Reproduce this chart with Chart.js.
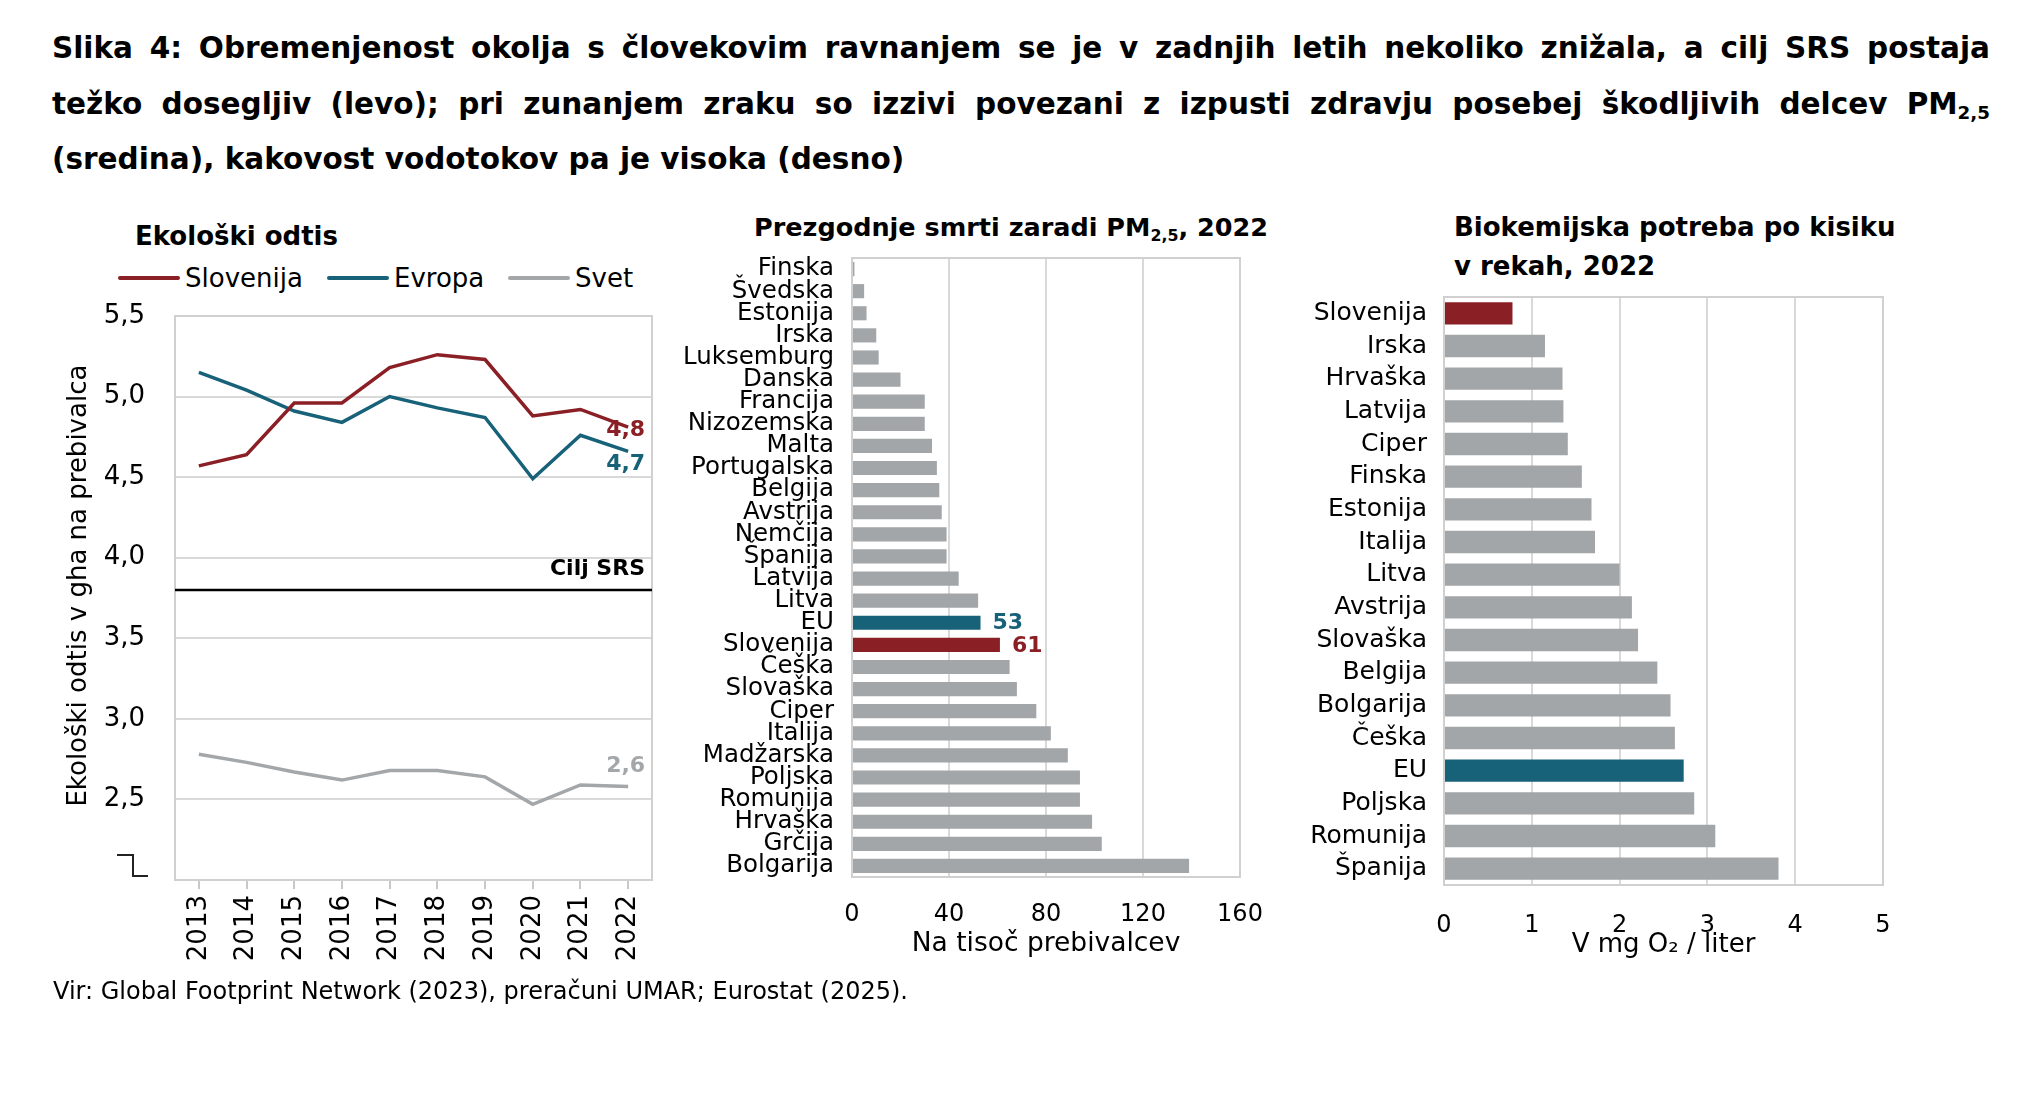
<!DOCTYPE html>
<html lang="sl">
<head>
<meta charset="utf-8">
<title>Slika 4</title>
<script src="https://cdn.jsdelivr.net/npm/chart.js@4.4.1/dist/chart.umd.min.js"></script>
<style>
  html, body { margin: 0; padding: 0; background: #fff; }
  body { width: 2032px; height: 1096px; position: relative; overflow: hidden;
         font-family: 'DejaVu Sans', sans-serif; color: #000; }
  .abs { position: absolute; white-space: nowrap; }
  .naslov { position: absolute; left: 52px; width: 1938px; font-weight: bold; font-size: 29.5px; line-height: 40px; }
  .just { text-align: justify; text-align-last: justify; }
  sub { font-size: 0.62em; vertical-align: -0.3em; line-height: 0; }
  canvas { position: absolute; }
  .leg-crta { position: absolute; height: 4px; border-radius: 2px; }
</style>
</head>
<body>

<div class="naslov just" style="top:28px">Slika 4: Obremenjenost okolja s človekovim ravnanjem se je v zadnjih letih nekoliko znižala, a cilj SRS postaja</div>
<div class="naslov just" style="top:84px">težko dosegljiv (levo); pri zunanjem zraku so izzivi povezani z izpusti zdravju posebej škodljivih delcev PM<sub>2,5</sub></div>
<div class="naslov" style="top:139px">(sredina), kakovost vodotokov pa je visoka (desno)</div>

<div class="abs" style="left:135px; top:220px; font-size:26px; line-height:32px; font-weight:bold">Ekološki odtis</div>
<div id="legenda"></div>

<div class="abs" style="left:754px; top:211px; font-size:25.5px; line-height:32px; font-weight:bold">Prezgodnje smrti zaradi PM<sub>2,5</sub>, 2022</div>
<div class="abs" style="left:1454px; top:208px; font-size:26px; line-height:39px; font-weight:bold">Biokemijska potreba po kisiku<br>v rekah, 2022</div>

<canvas id="odtis" width="630" height="700" style="left:40px; top:290px; width:630px; height:700px"></canvas>
<canvas id="pm" width="600" height="720" style="left:670px; top:245px; width:600px; height:720px"></canvas>
<canvas id="bpk" width="620" height="680" style="left:1300px; top:285px; width:620px; height:680px"></canvas>

<div class="abs" style="left:53px; top:977px; font-size:24px; line-height:28px">Vir: Global Footprint Network (2023), preračuni UMAR; Eurostat (2025).</div>

<script>
// Ekološki odtis (gha na prebivalca)
const leta = ['2013', '2014', '2015', '2016', '2017', '2018', '2019', '2020', '2021', '2022'];
const slovenija = [4.57, 4.64, 4.96, 4.96, 5.18, 5.26, 5.23, 4.88, 4.92, 4.81];
const evropa = [5.15, 5.04, 4.91, 4.84, 5.00, 4.93, 4.87, 4.49, 4.76, 4.66];
const svet = [2.78, 2.73, 2.67, 2.62, 2.68, 2.68, 2.64, 2.47, 2.59, 2.58];
const ciljSRS = 3.8;

// Prezgodnje smrti zaradi PM2,5 (na tisoč prebivalcev)
const pmDrzave = ['Finska', 'Švedska', 'Estonija', 'Irska', 'Luksemburg', 'Danska', 'Francija', 'Nizozemska',
    'Malta', 'Portugalska', 'Belgija', 'Avstrija', 'Nemčija', 'Španija', 'Latvija', 'Litva', 'EU', 'Slovenija',
    'Češka', 'Slovaška', 'Ciper', 'Italija', 'Madžarska', 'Poljska', 'Romunija', 'Hrvaška', 'Grčija', 'Bolgarija'];
const pmVrednosti = [1, 5, 6, 10, 11, 20, 30, 30, 33, 35, 36, 37, 39, 39, 44, 52, 53, 61,
    65, 68, 76, 82, 89, 94, 94, 99, 103, 139];

// Biokemijska potreba po kisiku v rekah (mg O2 / liter)
const bpkDrzave = ['Slovenija', 'Irska', 'Hrvaška', 'Latvija', 'Ciper', 'Finska', 'Estonija', 'Italija', 'Litva',
    'Avstrija', 'Slovaška', 'Belgija', 'Bolgarija', 'Češka', 'EU', 'Poljska', 'Romunija', 'Španija'];
const bpkVrednosti = [0.78, 1.15, 1.35, 1.36, 1.41, 1.57, 1.68, 1.72, 2.0, 2.14, 2.21, 2.43, 2.58, 2.63, 2.73, 2.85, 3.09, 3.81];

// Barve
const barvaSlo = '#8b1f26';
const barvaEvr = '#176179';
const barvaSvet = '#a3a7aa';
const barvaSiva = '#a2a6a9';
const barvaMreza = '#d9d9d9';
const barvaOkvir = '#d0d0d0';

Chart.defaults.font.family = "'DejaVu Sans', sans-serif";
Chart.defaults.color = '#000';
Chart.defaults.animation = false;
Chart.defaults.plugins.legend.display = false;
Chart.defaults.plugins.tooltip.enabled = false;

const fmt = v => v.toFixed(1).replace('.', ',');

// Legenda levega grafa
const serije = [
    { ime: 'Slovenija', barva: barvaSlo, x: 118 },
    { ime: 'Evropa', barva: barvaEvr, x: 327 },
    { ime: 'Svet', barva: barvaSvet, x: 508 }
];
document.getElementById('legenda').innerHTML = serije.map(s => `
    <div class="leg-crta" style="left:${s.x}px; top:276px; width:62px; background:${s.barva}"></div>
    <div class="abs" style="left:${s.x + 67}px; top:262px; font-size:26px; line-height:32px">${s.ime}</div>
`).join('');

// Okvir okoli risalne površine
const okvir = {
    id: 'okvir',
    beforeDatasetsDraw(chart) {
        const { ctx, chartArea: a } = chart;
        ctx.save();
        ctx.strokeStyle = barvaOkvir;
        ctx.lineWidth = 2;
        ctx.strokeRect(a.left, a.top, a.right - a.left, a.bottom - a.top);
        ctx.restore();
    }
};

// Črta cilja SRS
const ciljCrta = {
    id: 'cilj',
    afterDatasetsDraw(chart) {
        const { ctx, chartArea: a } = chart;
        const y = chart.scales.y.getPixelForValue(ciljSRS);
        ctx.save();
        ctx.strokeStyle = '#000';
        ctx.lineWidth = 2.5;
        ctx.beginPath();
        ctx.moveTo(a.left, y);
        ctx.lineTo(a.right, y);
        ctx.stroke();
        ctx.font = "bold 22px 'DejaVu Sans'";
        ctx.fillStyle = '#000';
        ctx.textAlign = 'right';
        ctx.textBaseline = 'middle';
        ctx.fillText('Cilj SRS', a.right - 7, y - 21);
        ctx.restore();
    }
};

// Vrednosti na koncu črt
const koncneOznake = {
    id: 'koncne',
    afterDatasetsDraw(chart) {
        const { ctx } = chart;
        chart.data.datasets.forEach((ds, i) => {
            const tocke = chart.getDatasetMeta(i).data;
            const zadnja = tocke[tocke.length - 1];
            ctx.save();
            ctx.font = "bold 22px 'DejaVu Sans'";
            ctx.fillStyle = ds.borderColor;
            ctx.textAlign = 'right';
            ctx.textBaseline = 'middle';
            ctx.fillText(fmt(ds.data[ds.data.length - 1]), zadnja.x + 17, zadnja.y + ds.oznakaDy);
            ctx.restore();
        });
    }
};

// Znak za prekinjeno os
const prelom = {
    id: 'prelom',
    afterDraw(chart) {
        const { ctx, chartArea: a } = chart;
        const y = chart.scales.y.getPixelForValue(2);
        ctx.save();
        ctx.strokeStyle = '#222';
        ctx.lineWidth = 2;
        ctx.beginPath();
        ctx.moveTo(a.left - 58, y - 25);
        ctx.lineTo(a.left - 42, y - 25);
        ctx.lineTo(a.left - 42, y - 4);
        ctx.lineTo(a.left - 27, y - 4);
        ctx.stroke();
        ctx.restore();
    }
};

// Vrednosti ob izbranih stolpcih
const vrednostiStolpcev = {
    id: 'vrednosti',
    afterDatasetsDraw(chart, args, opts) {
        const { ctx } = chart;
        const labels = chart.data.labels;
        const ds = chart.data.datasets[0];
        chart.getDatasetMeta(0).data.forEach((bar, i) => {
            if (!(opts.pokazi || []).includes(labels[i])) return;
            ctx.save();
            ctx.font = "bold 22px 'DejaVu Sans'";
            ctx.fillStyle = ds.backgroundColor[i];
            ctx.textAlign = 'left';
            ctx.textBaseline = 'middle';
            ctx.fillText(String(ds.data[i]), bar.x + 12, bar.y + 1);
            ctx.restore();
        });
    }
};

function barveZa(drzave) {
    return drzave.map(d => d === 'Slovenija' ? barvaSlo : (d === 'EU' ? barvaEvr : barvaSiva));
}

// Levi graf: ekološki odtis
new Chart(document.getElementById('odtis'), {
    type: 'line',
    data: {
        labels: leta,
        datasets: [
            { label: 'Slovenija', data: slovenija, borderColor: barvaSlo, oznakaDy: 3 },
            { label: 'Evropa', data: evropa, borderColor: barvaEvr, oznakaDy: 13 },
            { label: 'Svet', data: svet, borderColor: barvaSvet, oznakaDy: -20 }
        ].map(d => ({ ...d, borderWidth: 3.5, pointRadius: 0, tension: 0, fill: false }))
    },
    options: {
        responsive: false,
        layout: { padding: { top: 26, right: 18, left: 0, bottom: 0 } },
        scales: {
            x: {
                offset: true,
                grid: { drawOnChartArea: false, color: '#c8c8c8', lineWidth: 2, tickLength: 9 },
                border: { display: false },
                ticks: { autoSkip: false, minRotation: 90, maxRotation: 90, padding: 6, font: { size: 26 } },
                afterFit: s => { s.height = 110; s.paddingLeft = 0; s.paddingRight = 0; }
            },
            y: {
                min: 2,
                max: 5.5,
                grid: { color: barvaMreza, lineWidth: 2, drawTicks: false },
                border: { display: false },
                ticks: {
                    stepSize: 0.5,
                    padding: 30,
                    font: { size: 26 },
                    callback: v => v === 2 ? '' : fmt(v)
                },
                title: {
                    display: true,
                    // vodilni presledki premaknejo napis nekoliko navzgor, kot v izvirniku
                    text: '   Ekološki odtis v gha na prebivalca',
                    font: { size: 26 },
                    padding: { top: 24, bottom: 0 }
                },
                afterFit: s => { s.width = 135; s.paddingTop = 0; s.paddingBottom = 0; }
            }
        }
    },
    plugins: [okvir, ciljCrta, koncneOznake, prelom]
});

// Srednji graf: prezgodnje smrti zaradi PM2,5
new Chart(document.getElementById('pm'), {
    type: 'bar',
    data: {
        labels: pmDrzave,
        datasets: [{
            data: pmVrednosti,
            backgroundColor: barveZa(pmDrzave),
            barPercentage: 0.64,
            categoryPercentage: 1
        }]
    },
    options: {
        indexAxis: 'y',
        responsive: false,
        layout: { padding: { top: 13, right: 30, left: 0, bottom: 0 } },
        plugins: { vrednosti: { pokazi: ['EU', 'Slovenija'] } },
        scales: {
            x: {
                min: 0,
                max: 160,
                grid: { color: barvaMreza, lineWidth: 2, drawTicks: false },
                border: { display: false },
                ticks: { stepSize: 40, padding: 23, font: { size: 24 } },
                title: { display: true, text: 'Na tisoč prebivalcev', font: { size: 26.5 }, padding: { top: 0, bottom: 5 } },
                afterFit: s => { s.height = 88; s.paddingLeft = 0; s.paddingRight = 0; }
            },
            y: {
                grid: { display: false },
                border: { display: false },
                ticks: { autoSkip: false, padding: 10, font: { size: 24.5 } },
                afterFit: s => { s.width = 182; s.paddingTop = 0; s.paddingBottom = 0; }
            }
        }
    },
    plugins: [okvir, vrednostiStolpcev]
});

// Desni graf: biokemijska potreba po kisiku
new Chart(document.getElementById('bpk'), {
    type: 'bar',
    data: {
        labels: bpkDrzave,
        datasets: [{
            data: bpkVrednosti,
            backgroundColor: barveZa(bpkDrzave),
            barPercentage: 0.686,
            categoryPercentage: 1
        }]
    },
    options: {
        indexAxis: 'y',
        responsive: false,
        layout: { padding: { top: 12, right: 37, left: 0, bottom: 0 } },
        scales: {
            x: {
                min: 0,
                max: 5,
                grid: { color: barvaMreza, lineWidth: 2, drawTicks: false },
                border: { display: false },
                ticks: { stepSize: 1, padding: 26, font: { size: 24 } },
                title: { display: true, text: 'V mg O₂ / liter', font: { size: 26 }, padding: { top: 0, bottom: 4 } },
                afterFit: s => { s.height = 80; s.paddingLeft = 0; s.paddingRight = 0; }
            },
            y: {
                grid: { display: false },
                border: { display: false },
                ticks: { autoSkip: false, padding: 9, font: { size: 25 } },
                afterFit: s => { s.width = 144; s.paddingTop = 0; s.paddingBottom = 0; }
            }
        }
    },
    plugins: [okvir]
});
</script>
</body>
</html>
